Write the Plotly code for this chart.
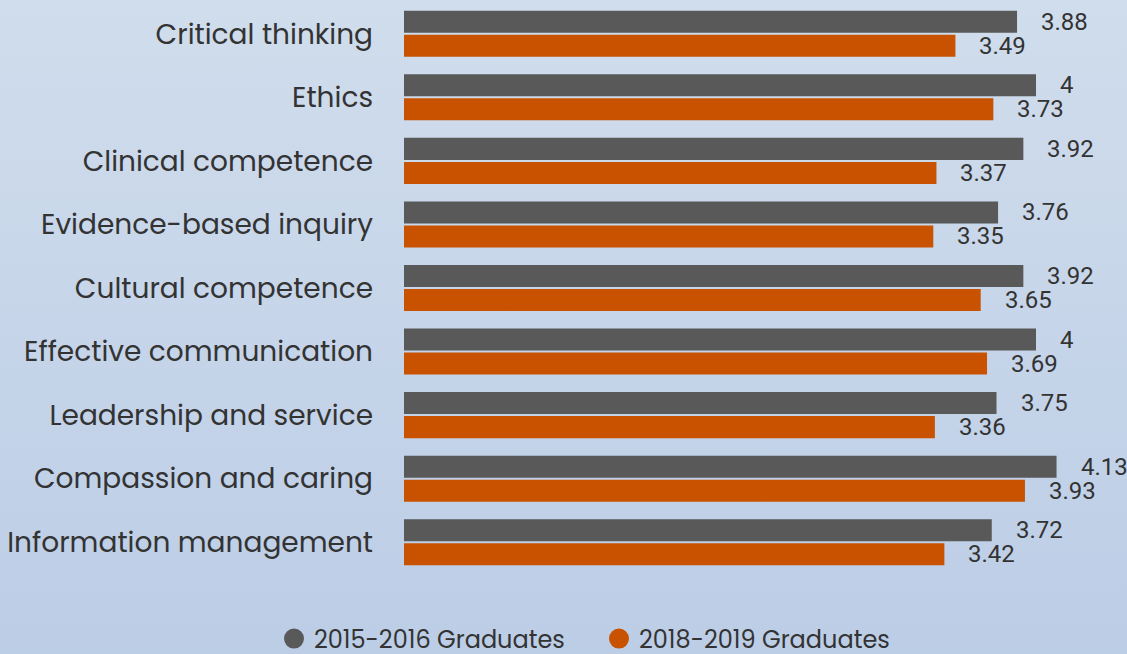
import base64
import plotly.graph_objects as go

categories = ["Critical thinking", "Ethics", "Clinical competence", "Evidence-based inquiry",
              "Cultural competence", "Effective communication", "Leadership and service",
              "Compassion and caring", "Information management"]
grad_2015 = [3.88, 4.00, 3.92, 3.76, 3.92, 4.00, 3.75, 4.13, 3.72]
grad_2019 = [3.49, 3.73, 3.37, 3.35, 3.65, 3.69, 3.36, 3.93, 3.42]
series_names = ["2015-2016 Graduates", "2018-2019 Graduates"]
colors = ["#595959", "#c85200"]

FONT = "Poppins, Lato, Open Sans, sans-serif"
VFONT = "Roboto, Liberation Sans, sans-serif"
TXT = "#333333"

W, H = 1127, 654
ML, MR, MT, MB = 404, 12, 2, 80
PW, PH = W - ML - MR, H - MT - MB

svg = ('<svg xmlns="http://www.w3.org/2000/svg" width="1127" height="654" preserveAspectRatio="none">'
       '<defs><linearGradient id="g" x1="0" y1="0" x2="0" y2="1">'
       '<stop offset="0" stop-color="#d0ddec"/><stop offset="1" stop-color="#bccde6"/>'
       '</linearGradient></defs><rect width="1127" height="654" fill="url(#g)"/></svg>')
bg_uri = "data:image/svg+xml;base64," + base64.b64encode(svg.encode()).decode()

def fmt(v):
    return f"{v:g}"

fig = go.Figure()
for name, vals, col in zip(series_names, [grad_2015, grad_2019], colors):
    fig.add_trace(go.Bar(x=vals, y=categories, orientation="h", name=name,
                         marker=dict(color=col, line=dict(width=0)), showlegend=False,
                         hoverinfo="x+y"))
    fig.add_trace(go.Scatter(x=[None], y=[None], mode="markers", name=name,
                             marker=dict(color=col, size=23, symbol="circle",
                                         line=dict(color=col, width=4))))

annotations = []
for vals, shift in [(grad_2015, 12), (grad_2019, -12)]:
    for c, v in zip(categories, vals):
        annotations.append(dict(x=v, y=c, xref="x", yref="y", text=fmt(v), showarrow=False,
                                xanchor="left", yanchor="middle", xshift=22, yshift=shift,
                                font=dict(family=VFONT, size=24, color=TXT)))

fig.update_layout(
    width=W, height=H, autosize=False,
    margin=dict(l=ML, r=MR, t=MT, b=MB, autoexpand=False),
    paper_bgcolor="#c6d5e9", plot_bgcolor="rgba(0,0,0,0)",
    barmode="group", bargap=0.244, bargroupgap=0.083,
    font=dict(family=FONT, color=TXT),
    images=[dict(source=bg_uri, xref="paper", yref="paper",
                 x=-ML / PW, y=1 + MT / PH, sizex=W / PW, sizey=H / PH,
                 xanchor="left", yanchor="top", layer="below", sizing="stretch")],
    xaxis=dict(range=[0, PW / 158.0], visible=False, fixedrange=True),
    yaxis=dict(autorange="reversed", showgrid=False, zeroline=False, showline=False,
               ticks="", ticklabelstandoff=30, tickfont=dict(family=FONT, size=28, color=TXT)),
    legend=dict(orientation="h", xref="container", yref="container",
                x=274 / W, xanchor="left", y=15 / H, yanchor="middle",
                font=dict(family=FONT, size=24, color=TXT),
                itemwidth=30, entrywidth=280, bgcolor="rgba(0,0,0,0)"),
    annotations=annotations,
)
fig.write_html("out.html", config={"displayModeBar": False, "responsive": False},
               post_script="document.body.style.margin='0';document.body.style.overflow='hidden';")
